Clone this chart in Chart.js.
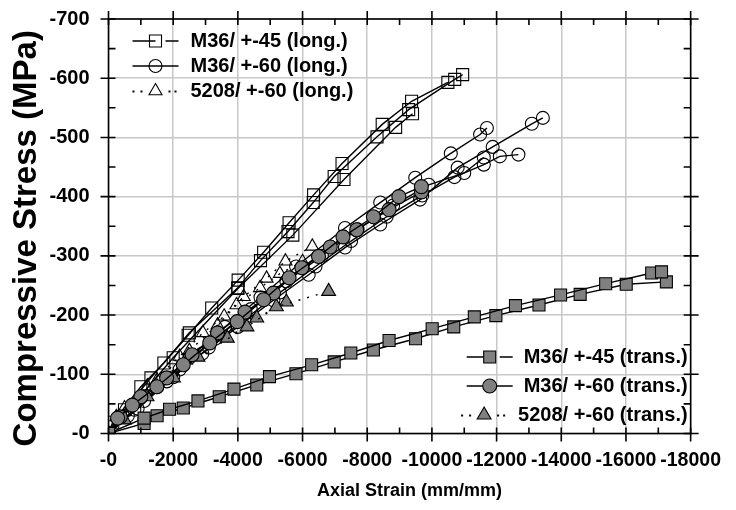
<!DOCTYPE html>
<html>
<head>
<meta charset="utf-8">
<script src="https://cdn.jsdelivr.net/npm/chart.js@4.4.1/dist/chart.umd.min.js"></script>
<style>
  html, body { margin: 0; padding: 0; background: #fff; }
  #wrap { width: 736px; height: 510px; position: relative; }
</style>
</head>
<body>
<div id="wrap"><canvas id="stressChart"></canvas></div>
<script>
// axial strain (micro mm/mm) and compressive stress (MPa), both stored as magnitudes,
// the axes print them with a minus sign like the original plot
const xTickLabels = ['-0', '-2000', '-4000', '-6000', '-8000', '-10000', '-12000', '-14000', '-16000', '-18000'];
const yTickLabels = ['-0', '-100', '-200', '-300', '-400', '-500', '-600', '-700'];

// M36 +-45, longitudinal (open squares)
const m45LongA = [[0,0],[130,19],[1000,79],[1712,119],[2463,166],[3191,212],[4009,259],[4797,306],[5584,356],[6342,403],[7221,456],[8463,522],[9372,561],[10493,593]];
const m45LongB = [[0,0],[494,40],[1312,94],[2500,170],[4000,246],[4700,292],[5550,341],[6330,390],[6978,434],[8303,501],[9281,547],[10705,598],[10950,606]];
const m45LongC = [[0,0],[2000,128],[4000,245],[5700,335],[7281,429],[8878,517],[9400,540]];

// M36 +-60, longitudinal (open circles)
const m60LongA = [[0,0],[800,40],[1800,88],[2900,135],[4000,180],[5100,225],[6190,268],[7312,314],[8402,353],[9635,395],[10796,449],[11878,484],[13090,523],[13430,533]];
const m60LongB = [[0,0],[600,30],[1500,78],[2500,128],[3600,180],[4700,230],[5800,282],[7312,347],[8402,390],[9484,432],[10584,473],[11490,505],[11700,516]];
const m60LongC = [[0,0],[900,42],[2000,95],[3100,145],[4200,192],[5300,238],[6400,282],[7500,325],[8600,366],[9700,402],[10696,433],[11605,454],[12100,468],[12675,471]];
const m60LongD = [[0,0],[1100,55],[2200,108],[3300,160],[4400,210],[5500,257],[6600,300],[7700,345],[8800,385],[9900,420],[11000,440],[11605,466]];

// 5208 +-60, longitudinal (open triangles)
const t5208LongA = [[0,0],[242,28],[1200,80],[2200,130],[2918,170],[3576,198],[4181,231],[4887,262],[5472,291],[6302,316]];
const t5208LongB = [[0,0],[494,43],[1500,90],[2500,140],[3372,183],[3957,217],[4685,246],[5300,270],[6000,290]];

// M36 +-45, transverse (grey squares)
const m45TransA = [[0,0],[1100,26],[1888,41],[2766,55],[3879,75],[4978,96],[6281,116],[7493,136],[8675,157],[10008,177],[11311,197],[12584,216],[13978,234],[15372,253],[16796,271],[17099,273]];
const m45TransB = [[0,0],[1100,17],[1503,30],[2312,43],[3424,62],[4584,82],[5796,101],[6978,121],[8190,141],[9493,160],[10675,180],[11978,199],[13311,217],[14584,235],[16008,252],[17250,256]];

// M36 +-60, transverse (grey circles)
const m60TransA = [[0,0],[282,26],[736,48],[1494,79],[2312,116],[3130,153],[3979,189],[4797,226],[5584,263],[6494,299],[7251,332],[8191,366],[8978,400],[9675,417]];
const m60TransB = [[0,0],[364,28],[1000,62],[1797,94],[2585,133],[3372,170],[4221,205],[5100,237],[5978,280],[6857,315],[7675,344],[8675,378],[9675,408]];

// 5208 +-60, transverse (grey triangles)
const t5208TransA = [[0,0],[1191,62],[2766,129],[4282,180],[5190,214],[6806,240]];
const t5208TransB = [[0,0],[494,23],[2009,94],[3675,161],[4584,195],[5500,222]];

const FONT = "'Liberation Sans', Arial, sans-serif";
const GREY = '#808080';

const styles = {
  sqOpen:  { shape: 'rect', radius: 8.5, fill: 'rgba(0,0,0,0)', dash: [] },
  ciOpen:  { shape: 'circle', radius: 6.5, fill: 'rgba(0,0,0,0)', dash: [] },
  trOpen:  { shape: 'triangle', radius: 7.5, fill: 'rgba(0,0,0,0)', dash: [2, 7] },
  sqGrey:  { shape: 'rect', radius: 8.5, fill: GREY, dash: [] },
  ciGrey:  { shape: 'circle', radius: 7, fill: GREY, dash: [] },
  trGrey:  { shape: 'triangle', radius: 8, fill: GREY, dash: [2, 7] }
};

function series(label, pts, st) {
  return {
    label: label,
    data: pts.map(p => ({ x: p[0], y: p[1] })),
    showLine: true,
    borderColor: '#000',
    borderWidth: 1.4,
    borderDash: st.dash,
    pointStyle: st.shape,
    pointRadius: st.radius,
    pointHoverRadius: st.radius,
    pointBackgroundColor: st.fill,
    pointBorderColor: '#000',
    pointBorderWidth: 1.1,
    tension: 0
  };
}

const datasets = [
  series('M36/ +-45 (trans.)', m45TransA, styles.sqGrey),
  series('M36/ +-45 (trans.)', m45TransB, styles.sqGrey),
  series('M36/ +-60 (trans.)', m60TransA, styles.ciGrey),
  series('M36/ +-60 (trans.)', m60TransB, styles.ciGrey),
  series('5208/ +-60 (trans.)', t5208TransA, styles.trGrey),
  series('5208/ +-60 (trans.)', t5208TransB, styles.trGrey),
  series('M36/ +-45 (long.)', m45LongA, styles.sqOpen),
  series('M36/ +-45 (long.)', m45LongB, styles.sqOpen),
  series('M36/ +-45 (long.)', m45LongC, styles.sqOpen),
  series('M36/ +-60 (long.)', m60LongA, styles.ciOpen),
  series('M36/ +-60 (long.)', m60LongB, styles.ciOpen),
  series('M36/ +-60 (long.)', m60LongC, styles.ciOpen),
  series('M36/ +-60 (long.)', m60LongD, styles.ciOpen),
  series('5208/ +-60 (long.)', t5208LongA, styles.trOpen),
  series('5208/ +-60 (long.)', t5208LongB, styles.trOpen)
];

function drawMarker(ctx, st, x, y) {
  ctx.fillStyle = st.fill;
  ctx.beginPath();
  if (st.shape === 'rect') {
    const s = st.radius * Math.SQRT1_2;
    ctx.rect(x - s, y - s, 2 * s, 2 * s);
  } else if (st.shape === 'circle') {
    ctx.arc(x, y, st.radius, 0, Math.PI * 2);
  } else {
    for (let i = 0; i < 3; i++) {
      const a = i * Math.PI * 2 / 3;
      const px = x + Math.sin(a) * st.radius, py = y - Math.cos(a) * st.radius;
      i ? ctx.lineTo(px, py) : ctx.moveTo(px, py);
    }
    ctx.closePath();
  }
  ctx.fill();
  ctx.stroke();
}

// sample line for a legend row: broken after the marker for squares, dotted for 5208
function drawSample(ctx, st, cx, cy) {
  ctx.lineWidth = 1.4;
  ctx.strokeStyle = '#000';
  ctx.beginPath();
  if (st.shape === 'rect') {
    ctx.moveTo(cx - 23, cy); ctx.lineTo(cx, cy);
    ctx.moveTo(cx + 10, cy); ctx.lineTo(cx + 23, cy);
    ctx.stroke();
  } else if (st.shape === 'circle') {
    ctx.moveTo(cx - 23, cy); ctx.lineTo(cx + 23, cy);
    ctx.stroke();
  } else {
    ctx.fillStyle = '#000';
    [-22, -14, 14, 20].forEach(d => { ctx.fillRect(cx + d - 1, cy - 0.5, 2, 2); });
  }
  ctx.lineWidth = 1.1;
  drawMarker(ctx, st, cx, cy);
}

const legendBoxes = {
  id: 'legendBoxes',
  afterDatasetsDraw(chart) {
    const ctx = chart.ctx;
    const a = chart.chartArea;
    ctx.save();
    ctx.font = 'bold 20px ' + FONT;
    ctx.textBaseline = 'middle';
    // upper-left block, left aligned
    const top = [['M36/ +-45 (long.)', styles.sqOpen], ['M36/ +-60 (long.)', styles.ciOpen], ['5208/ +-60 (long.)', styles.trOpen]];
    top.forEach((r, i) => {
      const y = a.top + 22 + i * 25;
      drawSample(ctx, r[1], a.left + 47, y);
      ctx.fillStyle = '#000';
      ctx.textAlign = 'left';
      ctx.fillText(r[0], a.left + 82, y);
    });
    // lower-right block, right aligned
    const bottom = [['M36/ +-45 (trans.)', styles.sqGrey], ['M36/ +-60 (trans.)', styles.ciGrey], ['5208/ +-60 (trans.)', styles.trGrey]];
    bottom.forEach((r, i) => {
      const y = a.top + 338 + i * 29;
      const w = ctx.measureText(r[0]).width;
      const xr = a.right - 3;
      drawSample(ctx, r[1], xr - w - 34, y);
      ctx.fillStyle = '#000';
      ctx.textAlign = 'right';
      ctx.fillText(r[0], xr, y);
    });
    ctx.restore();
  }
};

// box frame with major ticks across the axes and minor ticks pointing inside,
// plus both axis titles (placed slightly off-centre like the original)
const frameTicks = {
  id: 'frameTicks',
  afterDatasetsDraw(chart) {
    const ctx = chart.ctx;
    const a = chart.chartArea;
    const xs = chart.scales.x, ys = chart.scales.y;
    ctx.save();
    ctx.strokeStyle = '#000';
    ctx.lineWidth = 1.6;
    ctx.strokeRect(a.left, a.top, a.right - a.left, a.bottom - a.top);
    ctx.beginPath();
    for (let v = 0; v <= 18000; v += 1000) {
      const px = xs.getPixelForValue(v);
      const out = v % 2000 === 0 ? 8 : 0;
      ctx.moveTo(px, a.bottom + out); ctx.lineTo(px, a.bottom - 6);
      ctx.moveTo(px, a.top - out); ctx.lineTo(px, a.top + 6);
    }
    for (let v = 0; v <= 700; v += 50) {
      const py = ys.getPixelForValue(v);
      const out = v % 100 === 0 ? 8 : 0;
      ctx.moveTo(a.left - out, py); ctx.lineTo(a.left + 7, py);
      ctx.moveTo(a.right + out, py); ctx.lineTo(a.right - 7, py);
    }
    ctx.stroke();

    ctx.fillStyle = '#000';
    ctx.textAlign = 'center';
    ctx.textBaseline = 'middle';
    ctx.font = 'bold 18px ' + FONT;
    ctx.fillText('Axial Strain (mm/mm)', (a.left + a.right) / 2 + 10, a.bottom + 58);

    ctx.translate(27, (a.top + a.bottom) / 2 + 12);
    ctx.rotate(-Math.PI / 2);
    ctx.font = 'bold 33px ' + FONT;
    ctx.fillText('Compressive Stress (MPa)', 0, 0);
    ctx.restore();
  }
};

const ctx = document.getElementById('stressChart').getContext('2d');
const stressChart = new Chart(ctx, {
  type: 'scatter',
  data: { datasets: datasets },
  options: {
    responsive: true,
    maintainAspectRatio: false,
    animation: false,
    layout: { padding: { top: 19, right: 33, left: 0, bottom: 0 } },
    plugins: {
      legend: { display: false },
      tooltip: { enabled: false }
    },
    scales: {
      x: {
        type: 'linear',
        min: 0,
        max: 18000,
        afterFit: s => { s.height = 76.5; },
        grid: { color: '#c8c8c8', lineWidth: 1.5, drawTicks: false },
        border: { display: false },
        ticks: {
          stepSize: 2000,
          padding: 15,
          color: '#000',
          font: { family: FONT, size: 19.5, weight: 'bold' },
          maxRotation: 0,
          callback: (v, i) => xTickLabels[i]
        },
        title: { display: false }
      },
      y: {
        type: 'linear',
        min: 0,
        max: 700,
        // fixed axis width, and no extra room above/below for the end labels
        afterFit: s => { s.width = 108.5; s.paddingTop = 0; s.paddingBottom = 0; },
        grid: { color: '#c8c8c8', lineWidth: 1.5, drawTicks: false },
        border: { display: false },
        ticks: {
          stepSize: 100,
          padding: 19,
          color: '#000',
          font: { family: FONT, size: 20, weight: 'bold' },
          callback: (v, i) => yTickLabels[i]
        },
        title: { display: false }
      }
    }
  },
  plugins: [frameTicks, legendBoxes]
});
</script>
</body>
</html>
